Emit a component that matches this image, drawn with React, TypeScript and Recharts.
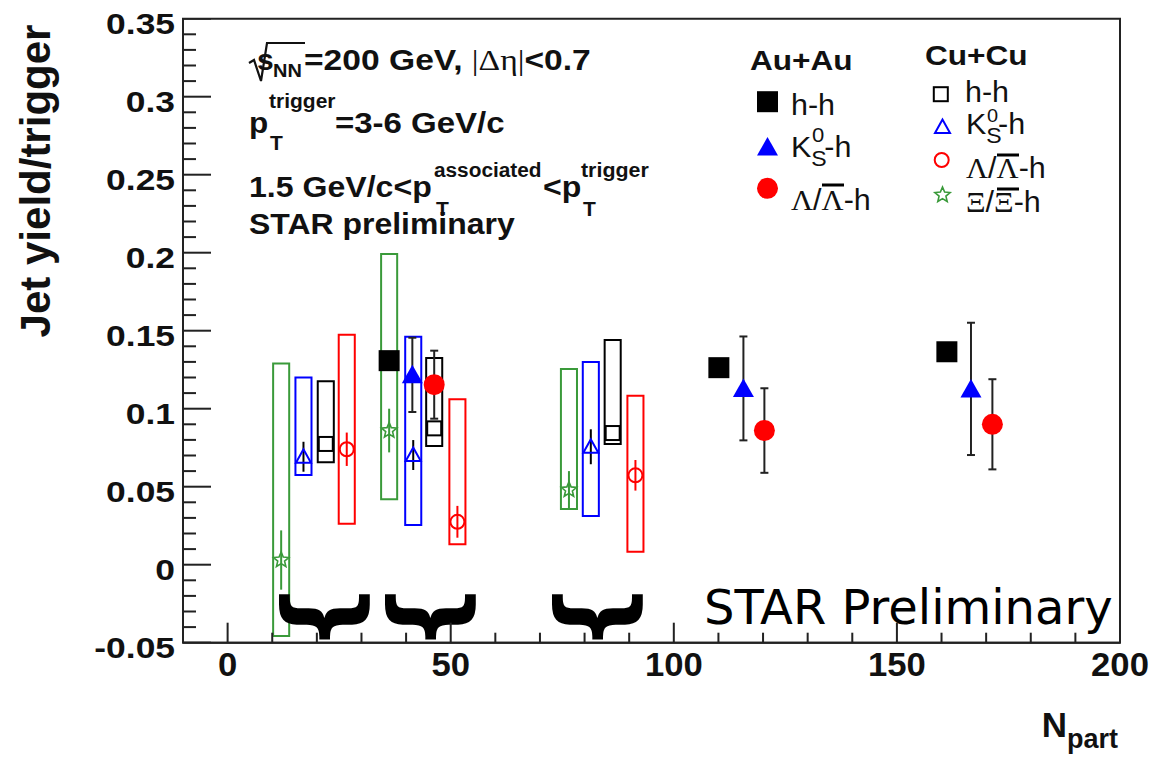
import React from 'react';
import { ComposedChart, Scatter, XAxis, YAxis, ErrorBar, ReferenceArea } from 'recharts';

// ---------------- data ----------------
const auNpartHH = [36.2, 110.1, 161.2];
const auYieldHH = [0.1308, 0.1263, 0.1365];

const auNpartK0 = [41.4, 115.6, 166.6];
const auYieldK0 = [0.1217, 0.113, 0.1127];
const auErrK0 = [0.0238, 0.0333, 0.0424];

const auNpartLam = [46.3, 120.3, 171.4];
const auYieldLam = [0.1154, 0.086, 0.09];
const auErrLam = [0.0218, 0.0271, 0.0289];

const cuNpartHH = [22.0, 46.3, 86.3];
const cuYieldHH = [0.0774, 0.0874, 0.0844];
const cuSysLowHH = [0.0656, 0.0761, 0.0774];
const cuSysHighHH = [0.1176, 0.1325, 0.144];

const cuNpartK0 = [17.0, 41.6, 81.4];
const cuYieldK0 = [0.0692, 0.0703, 0.0756];
const cuErrK0 = [0.0096, 0.0096, 0.0112];
const cuSysLowK0 = [0.0575, 0.0254, 0.0312];
const cuSysHighK0 = [0.12, 0.1462, 0.13];

const cuNpartLam = [26.7, 51.5, 91.4];
const cuYieldLam = [0.074, 0.0275, 0.0573];
const cuErrLam = [0.0107, 0.0102, 0.0098];
const cuSysLowLam = [0.0263, 0.0131, 0.0083];
const cuSysHighLam = [0.1474, 0.106, 0.1083];

const cuNpartXi = [12.0, 36.2, 76.5];
const cuYieldXi = [0.003, 0.086, 0.048];
const cuErrXi = [0.019, 0.014, 0.012];
const cuSysLowXi = [-0.0457, 0.0419, 0.0357];
const cuSysHighXi = [0.129, 0.1992, 0.1254];

const braceNpart = [20.8, 44.5, 81.8];
const braceLevel = [-0.0335, -0.0335, -0.0335];

const xDomain = [-10, 200];
const yDomain = [-0.05, 0.35];
const xMajorTicks = [0, 50, 100, 150, 200];
const yMajorTicks = [-0.05, 0, 0.05, 0.1, 0.15, 0.2, 0.25, 0.3, 0.35];
const xStep = 10;
const yStep = 0.01;
const sysHalfWidth = 1.8;

// ---------------- derived tables ----------------
const xAllTicks: number[] = [];
for (let v = xDomain[0]; v <= xDomain[1] + 1e-9; v += xStep) xAllTicks.push(Math.round(v));
const yAllTicks: number[] = [];
for (let i = 0; i <= Math.round((yDomain[1] - yDomain[0]) / yStep); i++)
  yAllTicks.push(Number((yDomain[0] + i * yStep).toFixed(2)));

const isMajor = (v: number, majors: number[]) => majors.some((t) => Math.abs(t - v) < 1e-9);

const table = (xs: number[], ys: number[], errs?: number[]) =>
  xs.map((x, i) => ({ x, y: ys[i], err: errs ? errs[i] : 0 }));

const auHH = table(auNpartHH, auYieldHH);
const auK0 = table(auNpartK0, auYieldK0, auErrK0);
const auLam = table(auNpartLam, auYieldLam, auErrLam);
const cuHH = table(cuNpartHH, cuYieldHH);
const cuK0 = table(cuNpartK0, cuYieldK0, cuErrK0);
const cuLam = table(cuNpartLam, cuYieldLam, cuErrLam);
const cuXi = table(cuNpartXi, cuYieldXi, cuErrXi);
const braces = table(braceNpart, braceLevel);

// tick-mark anchor points along the left and bottom frame edges
const yTickMarks = yAllTicks.map((v) => ({ x: xDomain[0], y: v, major: isMajor(v, yMajorTicks) }));
const xTickMarks = xAllTicks.map((v) => ({ x: v, y: yDomain[0], major: isMajor(v, xMajorTicks) }));

const sysBoxes = [
  { key: 'xi', color: '#3a9a3a', n: cuNpartXi, lo: cuSysLowXi, hi: cuSysHighXi },
  { key: 'k0', color: '#0000ff', n: cuNpartK0, lo: cuSysLowK0, hi: cuSysHighK0 },
  { key: 'hh', color: '#000000', n: cuNpartHH, lo: cuSysLowHH, hi: cuSysHighHH },
  { key: 'lam', color: '#ff0000', n: cuNpartLam, lo: cuSysLowLam, hi: cuSysHighLam },
];

// ---------------- styling ----------------
const FONT = '"Liberation Sans", Arial, Helvetica, sans-serif';
const SERIF = '"Liberation Serif", "DejaVu Serif", serif';
const GREEN = '#3a9a3a';
const INK = '#111';
const AXIS = '#222';
const CHART_MARGIN = { top: 18.7, right: 36, bottom: 54.3, left: 0 };

function starPoints(cx: number, cy: number, ro: number, ri: number) {
  const pts: string[] = [];
  for (let i = 0; i < 10; i++) {
    const r = i % 2 === 0 ? ro : ri;
    const a = -Math.PI / 2 + (i * Math.PI) / 5;
    pts.push(`${cx + r * Math.cos(a)},${cy + r * Math.sin(a)}`);
  }
  return pts.join(' ');
}

function Marker({ kind, cx, cy }: { kind: string; cx: number; cy: number }) {
  switch (kind) {
    case 'auHH':
      return <rect x={cx - 10.5} y={cy - 10.5} width={21} height={21} fill="#000" />;
    case 'auK0':
      return <polygon points={`${cx},${cy - 10} ${cx - 10.5},${cy + 8.5} ${cx + 10.5},${cy + 8.5}`} fill="#0000ff" />;
    case 'auLam':
      return <circle cx={cx} cy={cy} r={10.5} fill="#ff0000" />;
    case 'cuHH':
      return <rect x={cx - 7} y={cy - 7} width={14} height={14} fill="none" stroke="#000" strokeWidth={2} />;
    case 'cuK0':
      return <polygon points={`${cx},${cy - 7.5} ${cx - 7.5},${cy + 6} ${cx + 7.5},${cy + 6}`} fill="none" stroke="#0000ff" strokeWidth={2} />;
    case 'cuLam':
      return <circle cx={cx} cy={cy} r={7} fill="none" stroke="#ff0000" strokeWidth={2} />;
    case 'cuXi':
      return <polygon points={starPoints(cx, cy, 8, 3.6)} fill="none" stroke={GREEN} strokeWidth={1.6} />;
    default:
      return null;
  }
}

// horizontally stretched text (the reference's lettering is a bit wide)
function SText({ x, y, sx = 1.1, children, ...rest }: any) {
  return (
    <text x={0} y={0} transform={`translate(${x} ${y}) scale(${sx} 1)`} {...rest}>
      {children}
    </text>
  );
}

function XTick(props: any) {
  const { x, y, payload } = props;
  const v = payload.value as number;
  if (!isMajor(v, xMajorTicks)) return <g />;
  return (
    <SText x={x} y={y + 33} sx={1.05} textAnchor="middle" fontFamily={FONT} fontWeight="bold" fontSize={33} fill={INK}>
      {String(v)}
    </SText>
  );
}

function YTick(props: any) {
  const { x, y, payload } = props;
  const v = payload.value as number;
  if (!isMajor(v, yMajorTicks)) return <g />;
  return (
    <SText x={x - 8} y={y + 15} sx={1.18} textAnchor="end" fontFamily={FONT} fontWeight="bold" fontSize={30} fill={INK}>
      {String(Number(v.toFixed(2)))}
    </SText>
  );
}

function YTickMark(props: any) {
  const { cx, cy, payload } = props;
  const len = payload && payload.major ? 28 : 13;
  return <rect x={cx} y={cy - 1} width={len} height={2} fill={AXIS} />;
}

function XTickMark(props: any) {
  const { cx, cy, payload } = props;
  const len = payload && payload.major ? 20 : 10;
  return <rect x={cx - 1} y={cy - len} width={2} height={len} fill={AXIS} />;
}

function Brace(props: any) {
  const { cx, cy } = props;
  return (
    <text
      x={cx}
      y={cy}
      transform={`rotate(-90 ${cx} ${cy})`}
      textAnchor="middle"
      dominantBaseline="central"
      fontFamily="DejaVu Sans"
      fontWeight="bold"
      fontSize={98}
      fill="#000"
    >
      {'{'}
    </text>
  );
}

function Bar({ x, y, w }: { x: number; y: number; w: number }) {
  return <line x1={x} x2={x + w} y1={y} y2={y} stroke="#000" strokeWidth={3} />;
}

function Overlay() {
  const sup = 20;
  return (
    <svg width={1156} height={757} style={{ position: 'absolute', left: 0, top: 0 }}>
      {/* axis titles */}
      <text x={50} y={181} transform="rotate(-90 50 181)" textAnchor="middle" fontFamily={FONT} fontWeight="bold" fontSize={42} fill={INK}>
        Jet yield/trigger
      </text>
      <text x={1118} y={737} textAnchor="end" fontFamily={FONT} fontWeight="bold" fontSize={35} fill={INK}>
        N<tspan fontSize={27} dy={11}>part</tspan>
      </text>

      {/* annotation block */}
      <path d="M 249 63 L 254 60 L 261 81 L 267 43 L 305 43" fill="none" stroke={INK} strokeWidth={2.2} />
      <g fontFamily={FONT} fontWeight="bold" fontSize={30} fill={INK}>
        <SText x={257} y={70} sx={1.0}>s</SText>
        <SText x={273} y={77} sx={1.05} fontSize={19}>NN</SText>
        <SText x={304} y={70} sx={1.12}>
          =200 GeV, <tspan fontFamily={SERIF} fontWeight="normal">|Δη|</tspan>&lt;0.7
        </SText>

        <SText x={249} y={132.5} sx={1.05}>p</SText>
        <SText x={270} y={150} sx={1.05} fontSize={sup}>T</SText>
        <SText x={269} y={108} sx={1.05} fontSize={sup}>trigger</SText>
        <SText x={335} y={132.5} sx={1.1}>=3-6 GeV/c</SText>

        <SText x={249} y={196.5} sx={1.07}>1.5 GeV/c&lt;p</SText>
        <SText x={436} y={216} sx={1.05} fontSize={sup}>T</SText>
        <SText x={434} y={177} sx={1.04} fontSize={sup}>associated</SText>
        <SText x={543} y={196.5} sx={1.07}>&lt;p</SText>
        <SText x={583} y={216} sx={1.05} fontSize={sup}>T</SText>
        <SText x={581} y={177} sx={1.07} fontSize={sup}>trigger</SText>

        <SText x={249} y={233.5} sx={1.065}>STAR preliminary</SText>
      </g>

      {/* legend: Au+Au */}
      <SText x={750} y={70} sx={1.17} fontFamily={FONT} fontWeight="bold" fontSize={27} fill={INK}>Au+Au</SText>
      <Marker kind="auHH" cx={767.5} cy={101.7} />
      <Marker kind="auK0" cx={767.5} cy={147} />
      <Marker kind="auLam" cx={767.5} cy={188.3} />
      <g fontFamily={FONT} fontSize={29} fill={INK}>
        <SText x={791} y={115} sx={1.05}>h-h</SText>
        <SText x={791} y={157} sx={1.05}>
          K<tspan fontSize={22} dy={9}>S</tspan>
          <tspan fontSize={21} dx={-14} dy={-24}>0</tspan>
          <tspan dy={15}>-h</tspan>
        </SText>
        <SText x={791} y={210} sx={1.05}>
          <tspan fontFamily={SERIF}>Λ</tspan>/<tspan fontFamily={SERIF}>Λ</tspan>-h
        </SText>
      </g>
      <Bar x={822} y={185} w={22} />

      {/* legend: Cu+Cu */}
      <SText x={925} y={65} sx={1.17} fontFamily={FONT} fontWeight="bold" fontSize={27} fill={INK}>Cu+Cu</SText>
      <Marker kind="cuHH" cx={940.8} cy={94.2} />
      <Marker kind="cuK0" cx={942.5} cy={127} />
      <Marker kind="cuLam" cx={941.7} cy={160} />
      <Marker kind="cuXi" cx={942.5} cy={195} />
      <g fontFamily={FONT} fontSize={29} fill={INK}>
        <SText x={965} y={102} sx={1.05}>h-h</SText>
        <SText x={966} y={134} sx={1.05}>
          K<tspan fontSize={22} dy={9}>S</tspan>
          <tspan fontSize={19} dx={-14} dy={-21}>0</tspan>
          <tspan dy={12}>-h</tspan>
        </SText>
        <SText x={966} y={178} sx={1.05}>
          <tspan fontFamily={SERIF}>Λ</tspan>/<tspan fontFamily={SERIF}>Λ</tspan>-h
        </SText>
        <SText x={966} y={212} sx={1.05}>
          <tspan fontFamily={SERIF}>Ξ</tspan>/<tspan fontFamily={SERIF}>Ξ</tspan>-h
        </SText>
      </g>
      <Bar x={997} y={155} w={22} />
      <Bar x={997} y={189} w={22} />

      {/* watermark */}
      <text x={704} y={624} fontFamily="DejaVu Sans" fontSize={48} fill="#000">STAR Preliminary</text>
    </svg>
  );
}

// A transparent twin chart with identical axes/margins that only draws the
// inward-pointing tick marks, stacked on top of the main chart.
function TickLayer() {
  return (
    <div style={{ position: 'absolute', left: 0, top: 0, pointerEvents: 'none' }}>
      <ComposedChart width={1156} height={757} margin={CHART_MARGIN}>
        <XAxis
          type="number"
          dataKey="x"
          domain={xDomain}
          ticks={xAllTicks}
          interval={0}
          tickSize={0}
          tickMargin={0}
          tickLine={false}
          tick={() => <g />}
          axisLine={false}
          height={60}
          allowDataOverflow
        />
        <YAxis
          type="number"
          dataKey="y"
          domain={yDomain}
          ticks={yAllTicks}
          interval={0}
          tickSize={0}
          tickMargin={0}
          tickLine={false}
          tick={() => <g />}
          axisLine={false}
          width={183}
          allowDataOverflow
        />
        <Scatter data={yTickMarks} isAnimationActive={false} shape={(p: any) => <YTickMark {...p} />} />
        <Scatter data={xTickMarks} isAnimationActive={false} shape={(p: any) => <XTickMark {...p} />} />
      </ComposedChart>
    </div>
  );
}

export default function App() {
  return (
    <div style={{ position: 'absolute', left: 0, top: 0, width: 1156, height: 757, background: '#fff' }}>
      <Overlay />
      <div style={{ position: 'absolute', left: 0, top: 0 }}>
        <ComposedChart width={1156} height={757} margin={CHART_MARGIN}>
          <XAxis
            type="number"
            dataKey="x"
            domain={xDomain}
            ticks={xAllTicks}
            interval={0}
            tickSize={0}
            tickMargin={0}
            tickLine={false}
            tick={(p: any) => <XTick {...p} />}
            axisLine={{ stroke: AXIS, strokeWidth: 2 }}
            height={60}
            allowDataOverflow
          />
          <YAxis
            type="number"
            dataKey="y"
            domain={yDomain}
            ticks={yAllTicks}
            interval={0}
            tickSize={0}
            tickMargin={0}
            tickLine={false}
            tick={(p: any) => <YTick {...p} />}
            axisLine={{ stroke: AXIS, strokeWidth: 2 }}
            width={183}
            allowDataOverflow
          />
          {/* frame */}
          <ReferenceArea
            x1={xDomain[0]}
            x2={xDomain[1]}
            y1={yDomain[0]}
            y2={yDomain[1]}
            fill="none"
            fillOpacity={0}
            stroke={AXIS}
            strokeWidth={2}
            ifOverflow="visible"
          />
          {sysBoxes.flatMap((s) =>
            s.n.map((n, i) => (
              <ReferenceArea
                key={s.key + i}
                x1={n - sysHalfWidth}
                x2={n + sysHalfWidth}
                y1={s.lo[i]}
                y2={s.hi[i]}
                fill="none"
                fillOpacity={0}
                stroke={s.color}
                strokeWidth={2}
                ifOverflow="visible"
              />
            ))
          )}
          <Scatter data={braces} isAnimationActive={false} shape={(p: any) => <Brace {...p} />} />
          <Scatter data={cuXi} isAnimationActive={false} shape={(p: any) => <Marker kind="cuXi" cx={p.cx} cy={p.cy} />}>
            <ErrorBar dataKey="err" direction="y" width={0} stroke={GREEN} strokeWidth={2} />
          </Scatter>
          <Scatter data={cuK0} isAnimationActive={false} shape={(p: any) => <Marker kind="cuK0" cx={p.cx} cy={p.cy} />}>
            <ErrorBar dataKey="err" direction="y" width={0} stroke="#000" strokeWidth={2} />
          </Scatter>
          <Scatter data={cuHH} isAnimationActive={false} shape={(p: any) => <Marker kind="cuHH" cx={p.cx} cy={p.cy} />} />
          <Scatter data={cuLam} isAnimationActive={false} shape={(p: any) => <Marker kind="cuLam" cx={p.cx} cy={p.cy} />}>
            <ErrorBar dataKey="err" direction="y" width={0} stroke="#ff0000" strokeWidth={2} />
          </Scatter>
          <Scatter data={auHH} isAnimationActive={false} shape={(p: any) => <Marker kind="auHH" cx={p.cx} cy={p.cy} />} />
          <Scatter data={auK0} isAnimationActive={false} shape={(p: any) => <Marker kind="auK0" cx={p.cx} cy={p.cy} />}>
            <ErrorBar dataKey="err" direction="y" width={4} stroke={AXIS} strokeWidth={2} />
          </Scatter>
          <Scatter data={auLam} isAnimationActive={false} shape={(p: any) => <Marker kind="auLam" cx={p.cx} cy={p.cy} />}>
            <ErrorBar dataKey="err" direction="y" width={4} stroke={AXIS} strokeWidth={2} />
          </Scatter>
        </ComposedChart>
      </div>
      <TickLayer />
    </div>
  );
}
